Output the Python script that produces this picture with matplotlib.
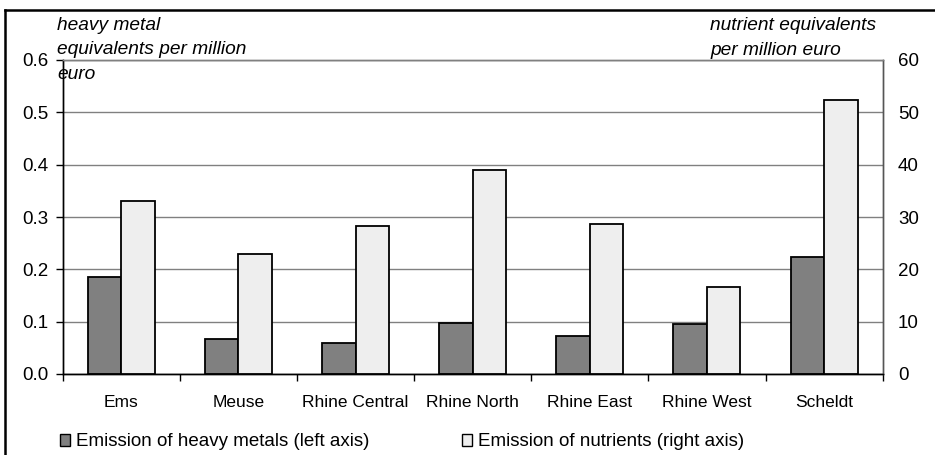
import matplotlib.pyplot as plt
from matplotlib.lines import Line2D
from matplotlib.patches import Patch
import numpy as np

plt.rcParams['font.family'] = ['Liberation Sans', 'DejaVu Sans']

basins = ["Ems", "Meuse", "Rhine Central", "Rhine North", "Rhine East", "Rhine West", "Scheldt"]
heavy_metals = [0.185, 0.066, 0.059, 0.098, 0.072, 0.095, 0.224]   # left axis
nutrients = [33.1, 23.0, 28.3, 39.0, 28.6, 16.6, 52.3]             # right axis

dark = "#808080"
light = "#eeeeee"
W, H = 935, 455

fig = plt.figure(figsize=(W / 100, H / 100), dpi=100)
ax = fig.add_axes([62.7 / W, (H - 374) / H, 820 / W, 314 / H])
ax2 = ax.twinx()

x = np.arange(len(basins))
bw = 0.286
ax.bar(x - bw / 2, heavy_metals, bw, color=dark, edgecolor="black", linewidth=1.3, zorder=3)
ax2.bar(x + bw / 2, nutrients, bw, color=light, edgecolor="black", linewidth=1.3, zorder=3)

ax.set_xlim(-0.5, len(basins) - 0.5)
ax.set_ylim(0, 0.6)
ax2.set_ylim(0, 60)
ax.set_yticks(np.arange(0, 0.61, 0.1))
ax.set_yticklabels([f"{v:.1f}" for v in np.arange(0, 0.61, 0.1)])
ax2.set_yticks(np.arange(0, 61, 10))

# gridlines drawn on the left axis
ax.grid(axis="y", color="#808080", linewidth=1.0, zorder=0)
ax.set_axisbelow(True)
ax2.set_zorder(ax.get_zorder() + 1)
ax2.patch.set_visible(False)

# category boundaries as ticks, names in between
ax.set_xticks(np.arange(-0.5, len(basins), 1.0))
ax.set_xticklabels([])
ax.set_xticks(x, minor=True)
ax.set_xticklabels(basins, minor=True)
ax.tick_params(axis="x", which="major", direction="out", length=5, width=1, color="black")
ax.tick_params(axis="x", which="minor", length=0, pad=15, labelsize=12.5)
ax.tick_params(axis="y", direction="out", length=5, width=1, pad=5, labelsize=13.5)
ax2.tick_params(axis="y", length=0, pad=11, labelsize=13.5)

for a in (ax, ax2):
    a.spines["top"].set_color("#808080")
    a.spines["right"].set_color("#555555")
    a.spines["left"].set_color("black")
    a.spines["bottom"].set_color("black")
    for s in a.spines.values():
        s.set_linewidth(1.0)

# axis titles
left_title = ["heavy metal", "equivalents per million", "euro"]
for line, yb in zip(left_title, [30, 54, 79]):
    fig.text(57 / W, 1 - yb / H, line, style="italic", fontsize=13.8, va="baseline", ha="left")
right_title = ["nutrient equivalents", "per million euro"]
for line, yb in zip(right_title, [30, 55]):
    fig.text(710 / W, 1 - yb / H, line, style="italic", fontsize=13.8, va="baseline", ha="left")

# legend entries
h1 = Patch(facecolor=dark, edgecolor="black", linewidth=1.0)
h2 = Patch(facecolor=light, edgecolor="black", linewidth=1.0)
fig.legend([h1], ["Emission of heavy metals (left axis)"], loc="center left",
           bbox_to_anchor=(60 / W, 1 - 442 / H), frameon=False, fontsize=13.5,
           handlelength=0.55, handleheight=0.55, handletextpad=0.3, borderpad=0, borderaxespad=0)
fig.legend([h2], ["Emission of nutrients (right axis)"], loc="center left",
           bbox_to_anchor=(462 / W, 1 - 442 / H), frameon=False, fontsize=13.5,
           handlelength=0.55, handleheight=0.55, handletextpad=0.3, borderpad=0, borderaxespad=0)

# outer chart border (left and top edges)
fig.add_artist(Line2D([5 / W, 5 / W], [0, 1 - 10 / H], transform=fig.transFigure, color="black", linewidth=1.8))
fig.add_artist(Line2D([5 / W, 1], [1 - 10 / H, 1 - 10 / H], transform=fig.transFigure, color="black", linewidth=1.8))

fig.savefig("out.png", dpi=100)
